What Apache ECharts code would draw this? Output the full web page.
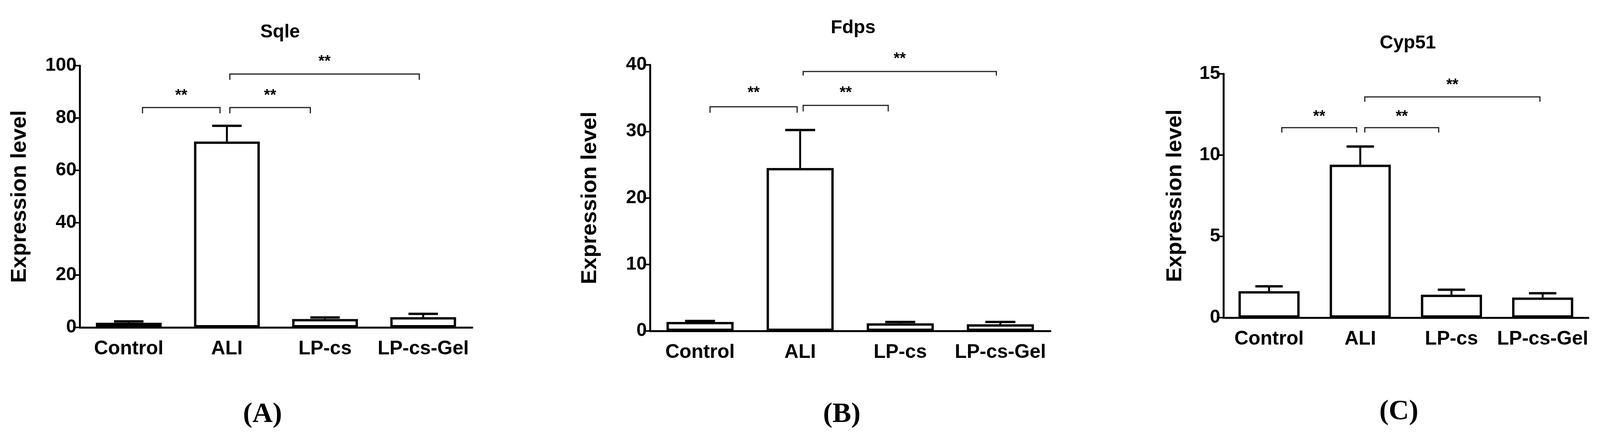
<!DOCTYPE html>
<html>
<head>
<meta charset="utf-8">
<script src="https://cdn.jsdelivr.net/npm/echarts@6/dist/echarts.min.js"></script>
<style>html,body{margin:0;padding:0;background:#fff}#main{width:4102px;height:1121px}</style>
</head>
<body>
<div id="main"></div>
<script>
var categories = ['Control', 'ALI', 'LP-cs', 'LP-cs-Gel'];
var titles = ['Sqle', 'Fdps', 'Cyp51'];
var panelLabels = ['A', 'B', 'C'];
// mean values
var sqleMean = [1.8, 71, 3.2, 3.9];
var fdpsMean = [1.35, 24.5, 1.15, 1.0];
var cypMean = [1.63, 9.41, 1.41, 1.24];
// top of error bars
var sqleErr = [2.3, 77, 3.8, 5.2];
var fdpsErr = [1.5, 30.2, 1.35, 1.35];
var cypErr = [1.93, 10.53, 1.72, 1.5];
// axis ranges
var yMax = [100, 40, 15];
var yStep = [20, 10, 5];
// brackets: [from cat, from offset, to cat, to offset, y, drop, star y]
var sqleBrackets = [[0, 0.14, 1, -0.07, 84, 2.2, 88.5], [1, 0.03, 2, -0.15, 84, 2.2, 88.5], [1, 0.03, 3, -0.04, 96.8, 2.2, 101.5]];
var fdpsBrackets = [[0, 0.1, 1, -0.03, 33.7, 0.9, 35.8], [1, 0.03, 2, -0.12, 33.9, 0.9, 35.8], [1, 0.03, 3, -0.04, 39.0, 0.6, 40.9]];
var cypBrackets = [[0, 0.14, 1, -0.04, 11.69, 0.3, 12.35], [1, 0.05, 2, -0.14, 11.69, 0.3, 12.35], [1, 0.05, 3, -0.03, 13.58, 0.3, 14.3]];

var means = [sqleMean, fdpsMean, cypMean];
var errs = [sqleErr, fdpsErr, cypErr];
var brackets = [sqleBrackets, fdpsBrackets, cypBrackets];

var grids = [
    {left: 204, top: 168, width: 1005, height: 670},
    {left: 1664, top: 166, width: 1025, height: 681},
    {left: 3132, top: 189, width: 934, height: 624}
];
var titlePos = [[712, 54], [2179, 43], [3599, 82]];
var labelPos = [[667, 1020], [2150, 1020], [3576, 1013]];

var font = 'Liberation Sans';
var myChart = echarts.init(document.getElementById('main'));

var option = {
    backgroundColor: '#fff',
    animation: false,
    title: [],
    grid: grids,
    xAxis: [],
    yAxis: [],
    series: []
};

for (var i = 0; i < 3; i++) {
    option.title.push({
        text: titles[i], left: titlePos[i][0], top: titlePos[i][1], textAlign: 'center',
        textStyle: {fontFamily: font, fontWeight: 'bold', fontSize: 48, color: '#000'}
    });
    option.title.push({
        text: '({b|' + panelLabels[i] + '})', left: labelPos[i][0], top: labelPos[i][1], textAlign: 'center',
        textStyle: {fontFamily: 'Liberation Serif', fontSize: 72, color: '#000',
            rich: {b: {fontFamily: 'Liberation Serif', fontWeight: 'bold', fontSize: 72, color: '#000'}}}
    });
    option.xAxis.push({
        type: 'category', gridIndex: i, data: categories,
        axisLine: {lineStyle: {color: '#000', width: 5}},
        axisTick: {alignWithLabel: true, length: 17, lineStyle: {color: '#000', width: 4}},
        axisLabel: {interval: 0, fontFamily: font, fontWeight: 'bold', fontSize: 50, color: '#000', margin: 30}
    });
    option.yAxis.push({
        type: 'value', gridIndex: i, min: 0, max: yMax[i], interval: yStep[i],
        name: 'Expression level', nameLocation: 'middle', nameGap: i === 2 ? 95 : 125,
        nameTextStyle: {fontFamily: font, fontWeight: 'bold', fontSize: 56, color: '#000'},
        axisLine: {show: true, lineStyle: {color: '#000', width: 5}},
        axisTick: {show: true, length: 17, lineStyle: {color: '#000', width: 4}},
        axisLabel: {fontFamily: font, fontWeight: 'bold', fontSize: 48, color: '#000', margin: 8},
        splitLine: {show: false}
    });
    option.series.push({
        type: 'bar', xAxisIndex: i, yAxisIndex: i, data: means[i], barWidth: '67%',
        itemStyle: {color: '#fff', borderColor: '#000', borderWidth: 6}
    });
    // error bars (upper only)
    (function (m, e) {
        option.series.push({
            type: 'custom', xAxisIndex: i, yAxisIndex: i, z: 3,
            data: m.map(function (v, k) { return [k, v, e[k]]; }),
            renderItem: function (params, api) {
                var lo = api.coord([api.value(0), api.value(1)]);
                var hi = api.coord([api.value(0), api.value(2)]);
                var hw = api.size([1, 0])[0] * 0.15;
                return {type: 'group', children: [
                    {type: 'line', shape: {x1: lo[0], y1: lo[1], x2: hi[0], y2: hi[1]}, style: {stroke: '#000', lineWidth: 5}},
                    {type: 'line', shape: {x1: hi[0] - hw, y1: hi[1], x2: hi[0] + hw, y2: hi[1]}, style: {stroke: '#000', lineWidth: 6}}
                ]};
            }
        });
    })(means[i], errs[i]);
    // significance brackets
    option.series.push({
        type: 'custom', xAxisIndex: i, yAxisIndex: i, z: 4, clip: false,
        data: brackets[i],
        renderItem: function (params, api) {
            var bw = api.size([1, 0])[0];
            var a = api.coord([api.value(0), api.value(4)]);
            var b = api.coord([api.value(2), api.value(4)]);
            var d = api.coord([api.value(0), api.value(4) - api.value(5)]);
            var s = api.coord([api.value(0), api.value(6)]);
            var x1 = a[0] + api.value(1) * bw, x2 = b[0] + api.value(3) * bw;
            return {type: 'group', children: [
                {type: 'polyline', shape: {points: [[x1, d[1]], [x1, a[1]], [x2, a[1]], [x2, d[1]]]},
                    style: {stroke: '#222', lineWidth: 3, fill: null}},
                {type: 'text', x: (x1 + x2) / 2, y: s[1],
                    style: {text: '**', fontFamily: font, fontWeight: 'bold', fontSize: 40, fill: '#000', align: 'center', verticalAlign: 'middle'}}
            ]};
        }
    });
}

myChart.setOption(option);
</script>
</body>
</html>
